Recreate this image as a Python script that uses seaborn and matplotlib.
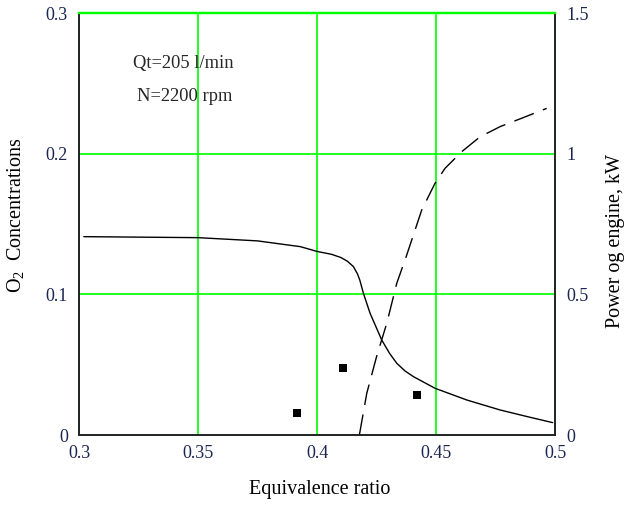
"""
O2 concentration and engine power vs equivalence ratio (twin axes).
Output: out.png
"""

import matplotlib
matplotlib.use("Agg")
import matplotlib.pyplot as plt
import seaborn as sns
import pandas as pd

FILE_OUT = "out.png"

# O2 concentration curve (left axis)
phi_o2 = [0.302, 0.35, 0.375, 0.393, 0.400, 0.406, 0.410, 0.4128, 0.4153, 0.417, 0.418,
          0.4195, 0.4223, 0.4272, 0.4305, 0.4335, 0.437, 0.4405, 0.4496, 0.4629,
          0.4769, 0.4885, 0.499]
o2 = [0.141, 0.1403, 0.138, 0.1339, 0.1305, 0.1285, 0.1262, 0.1235, 0.1197, 0.1145, 0.110,
      0.1007, 0.0865, 0.0675, 0.058, 0.051, 0.0455, 0.0415, 0.0332, 0.0249,
      0.0178, 0.013, 0.0088]

# engine power curve (right axis, kW)
phi_pw = [0.4178, 0.4209, 0.425, 0.4293, 0.4335, 0.4377, 0.444, 0.4496, 0.4538,
          0.4608, 0.4685, 0.4769, 0.486, 0.4965]
power = [0.0, 0.148, 0.278, 0.397, 0.539, 0.64, 0.80, 0.895, 0.948,
         1.007, 1.060, 1.096, 1.126, 1.161]

# measured O2 points
phi_sq = [0.3915, 0.4111, 0.4422]
o2_sq = [0.0154, 0.0474, 0.0284]

x_ticks = [0.3, 0.35, 0.4, 0.45, 0.5]
x_labels = ["0.3", "0.35", "0.4", "0.45", "0.5"]
yl_ticks = [0, 0.1, 0.2, 0.3]
yl_labels = ["0", "0.1", "0.2", "0.3"]
yr_ticks = [0, 0.5, 1, 1.5]
yr_labels = ["0", "0.5", "1", "1.5"]

sns.set_style("white")
plt.rcParams["font.family"] = ["Liberation Serif", "DejaVu Serif"]
plt.rcParams["mathtext.fontset"] = "custom"
plt.rcParams["mathtext.rm"] = "Liberation Serif"
plt.rcParams["mathtext.it"] = "Liberation Serif:italic"

TICK_COLOR = "#1c2450"
GREEN = "#00ff00"

fig = plt.figure(figsize=(6.28, 5.08), dpi=100)
ax = fig.add_axes([0.1258, 0.1437, 0.758, 0.8307])

ax.grid(True, color=GREEN, linewidth=1.2)
ax.set_axisbelow(True)

df_o2 = pd.DataFrame({"phi": phi_o2, "o2": o2})
sns.lineplot(data=df_o2, x="phi", y="o2", ax=ax, color="black", linewidth=1.0)
df_sq = pd.DataFrame({"phi": phi_sq, "o2": o2_sq})
sns.scatterplot(data=df_sq, x="phi", y="o2", ax=ax, color="black", marker="s",
                s=38, edgecolor="black", linewidth=0, zorder=5)

ax.set_xlim(0.3, 0.5)
ax.set_ylim(0, 0.3)
ax.set_xticks(x_ticks)
ax.set_xticklabels(x_labels)
ax.set_yticks(yl_ticks)
ax.set_yticklabels(yl_labels)
ax.tick_params(axis="both", length=0, labelsize=13, labelcolor=TICK_COLOR)
ax.tick_params(axis="x", pad=7)
ax.tick_params(axis="y", pad=8)

ax.set_xlabel("Equivalence ratio", fontsize=14.5, color="black")
ax.xaxis.set_label_coords(0.506, -0.106)
ax.set_ylabel(r"O$_2$  Concentrations", fontsize=14.5, color="black")
ax.yaxis.set_label_coords(-0.112, 0.52)

for side in ["left", "bottom", "right"]:
    ax.spines[side].set_color("#222222")
    ax.spines[side].set_linewidth(1.2)
ax.spines["top"].set_color(GREEN)
ax.spines["top"].set_linewidth(1.6)

ax.text(0.3437, 0.264, "Qt=205 l/min", fontsize=13.3, ha="center", va="center")
ax.text(0.3445, 0.2405, "N=2200 rpm", fontsize=13.3, ha="center", va="center")

ax2 = ax.twinx()
df_pw = pd.DataFrame({"phi": phi_pw, "power": power})
sns.lineplot(data=df_pw, x="phi", y="power", ax=ax2, color="black", linewidth=1.0,
             linestyle=(0, (15, 7)))
ax2.set_ylim(0, 1.5)
ax2.set_yticks(yr_ticks)
ax2.set_yticklabels(yr_labels)
ax2.tick_params(axis="y", length=0, labelsize=13, labelcolor=TICK_COLOR, pad=8)
ax2.set_ylabel("Power og engine, kW", fontsize=14.5, color="black")
ax2.yaxis.set_label_coords(1.108, 0.46)
ax2.grid(False)
for side in ["left", "bottom", "right"]:
    ax2.spines[side].set_color("#222222")
    ax2.spines[side].set_linewidth(1.2)
ax2.spines["top"].set_color(GREEN)
ax2.spines["top"].set_linewidth(1.6)

plt.savefig(FILE_OUT, dpi=100)
plt.close()
print(f"Saved: {FILE_OUT}")
